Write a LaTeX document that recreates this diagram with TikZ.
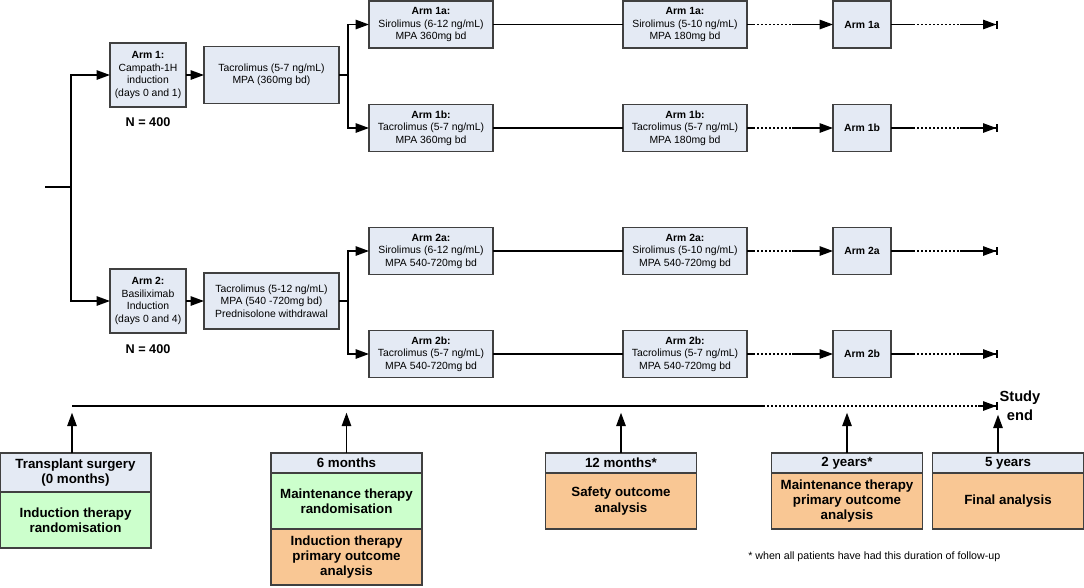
\documentclass[tikz,border=0pt]{standalone}
\usepackage{fontspec}
\setmainfont{Liberation Sans}
\usepackage{tikz}
\usetikzlibrary{positioning,calc,arrows.meta}

\definecolor{armfill}{HTML}{E4EAF4}
\definecolor{randfill}{HTML}{CCFFCC}
\definecolor{anafill}{HTML}{F9C794}
\definecolor{boxline}{HTML}{404040}

\tikzset{
  armbox/.style={draw=boxline, line width=0.8pt, fill=armfill, align=center, inner sep=0pt, outer sep=0pt, font=\fontsize{7.8}{9.4}\selectfont},
  colbox/.style={armbox, minimum width=93pt, minimum height=35.25pt},
  endbox/.style={armbox, minimum width=43.5pt, minimum height=35.25pt},
  headbox/.style={armbox, minimum width=113.25pt, minimum height=15pt, font=\bfseries\fontsize{10}{11.5}\selectfont},
  bodybox/.style={headbox, minimum height=42pt},
  link/.style={line width=1.2pt},
  flow/.style={link, -{Triangle[length=10pt,width=7pt]}},
  dots/.style={link, dash pattern=on 1.8pt off 1.2pt},
  endtip/.style={link, -{Triangle[length=10pt,width=7pt]Bar[width=6pt]}},
}

\begin{document}
\begin{tikzpicture}[x=0.75pt, y=-0.75pt]
    \useasboundingbox (0,0) rectangle (1084,587);

    \node[armbox, minimum width=57pt, minimum height=48pt] (arm1) at (148,75) {\textbf{Arm 1:}\\Campath-1H\\induction\\(days 0 and 1)};
    \node[armbox, minimum width=57pt, minimum height=48pt] (arm2) at (148,301) {\textbf{Arm 2:}\\Basiliximab\\Induction\\(days 0 and 4)};
    \node[font=\bfseries\fontsize{9.5}{11}\selectfont] (n1) at (148,122) {N = 400};
    \node[font=\bfseries\fontsize{9.5}{11}\selectfont] (n2) at (148,349) {N = 400};

    \node[armbox, minimum width=101.25pt, minimum height=42.75pt] (tac1) at (271.5,75) {Tacrolimus (5-7 ng/mL)\\MPA (360mg bd)};
    \node[armbox, minimum width=101.25pt, minimum height=42pt] (tac2) at (271.5,301) {Tacrolimus (5-12 ng/mL)\\MPA (540 -720mg bd)\\Prednisolone withdrawal};

    \node[colbox] (s1a) at (431,24.5) {\textbf{Arm 1a:}\\Sirolimus (6-12 ng/mL)\\MPA 360mg bd};
    \node[colbox] (s1b) at (431,128) {\textbf{Arm 1b:}\\Tacrolimus (5-7 ng/mL)\\MPA 360mg bd};
    \node[colbox] (s2a) at (431,251) {\textbf{Arm 2a:}\\Sirolimus (6-12 ng/mL)\\MPA 540-720mg bd};
    \node[colbox] (s2b) at (431,354) {\textbf{Arm 2b:}\\Tacrolimus (5-7 ng/mL)\\MPA 540-720mg bd};

    \node[colbox] (m1a) at (685,24.5) {\textbf{Arm 1a:}\\Sirolimus (5-10 ng/mL)\\MPA 180mg bd};
    \node[colbox] (m1b) at (685,128) {\textbf{Arm 1b:}\\Tacrolimus (5-7 ng/mL)\\MPA 180mg bd};
    \node[colbox] (m2a) at (685,251) {\textbf{Arm 2a:}\\Sirolimus (5-10 ng/mL)\\MPA 540-720mg bd};
    \node[colbox] (m2b) at (685,354) {\textbf{Arm 2b:}\\Tacrolimus (5-7 ng/mL)\\MPA 540-720mg bd};

    \node[endbox] (e1a) at (862,24.5) {\textbf{Arm 1a}};
    \node[endbox] (e1b) at (862,128) {\textbf{Arm 1b}};
    \node[endbox] (e2a) at (862,251) {\textbf{Arm 2a}};
    \node[endbox] (e2b) at (862,354) {\textbf{Arm 2b}};

    \coordinate (st) at (45,187);
    \coordinate (jn) at (71,187);
    \coordinate (b1) at (348,75);
    \coordinate (b2) at (348,301);
    \draw[link] (st) -- (jn);
    \draw[flow] (jn) |- (arm1);
    \draw[flow] (jn) |- (arm2);
    \draw[flow] (arm1) -- (tac1);
    \draw[flow] (arm2) -- (tac2);
    \draw[link] (tac1) -- (b1);
    \draw[link] (tac2) -- (b2);
    \draw[flow] (b1) |- (s1a);
    \draw[flow] (b1) |- (s1b);
    \draw[flow] (b2) |- (s2a);
    \draw[flow] (b2) |- (s2b);

    \foreach \r in {1a,1b,2a,2b}{
        \draw[link] (s\r) -- (m\r);
        \draw[link] (m\r.east) -- ++(6,0) coordinate (p\r);
        \draw[dots] (p\r) -- ++(39,0) coordinate (q\r);
        \draw[flow] (q\r) -- (e\r);
        \draw[link] (e\r.east) -- ++(22,0) coordinate (u\r);
        \draw[dots] (u\r) -- ++(47,0) coordinate (v\r);
        \draw[endtip] (v\r) -- ++(38,0) coordinate (z\r);
    }

    \node[headbox, minimum height=29.25pt, anchor=north] (h0) at (75.5,453) {Transplant surgery\\(0 months)};
    \node[bodybox, fill=randfill, below=0pt of h0] (g0) {Induction therapy\\randomisation};
    \node[headbox, anchor=north] (h6) at (346.5,453) {6 months};
    \node[bodybox, fill=randfill, below=0pt of h6] (g6) {Maintenance therapy\\randomisation};
    \node[bodybox, fill=anafill, below=0pt of g6] (o6) {Induction therapy\\primary outcome\\analysis};
    \node[headbox, anchor=north] (h12) at (621,453) {12 months*};
    \node[bodybox, fill=anafill, below=0pt of h12] (o12) {Safety outcome\\analysis};
    \node[headbox, anchor=north] (h24) at (847,453) {2 years*};
    \node[bodybox, fill=anafill, below=0pt of h24] (o24) {Maintenance therapy\\primary outcome\\analysis};
    \node[headbox, anchor=north] (h60) at (1008,453) {5 years};
    \node[bodybox, fill=anafill, below=0pt of h60] (o60) {Final analysis};

    \coordinate (t0) at (72,406);
    \coordinate (t1) at (763,406);
    \coordinate (t2) at (978,406);
    \coordinate (tend) at (998,406);
    \draw[link] (t0) -- (t1);
    \draw[dots] (t1) -- (t2);
    \draw[endtip] (t2) -- (tend);
    \node[font=\bfseries\fontsize{11}{14}\selectfont, align=center, inner sep=1pt, right=0pt of tend] (study) {Study\\end};

    \draw[flow, shorten >=5pt] (t0 |- h0.north) -- (t0);
    \draw[flow, shorten >=5pt] (h6.north) -- (h6.north |- t0);
    \draw[flow, shorten >=5pt] (h12.north) -- (h12.north |- t0);
    \draw[flow, shorten >=5pt] (h24.north) -- (h24.north |- t0);
    \draw[flow, shorten >=6.5pt] (h60.north -| tend) -- (tend);

    \node[font=\fontsize{8}{9.5}\selectfont, anchor=west, inner sep=0pt] (note) at (748,557) {* when all patients have had this duration of follow-up};
\end{tikzpicture}
\end{document}
